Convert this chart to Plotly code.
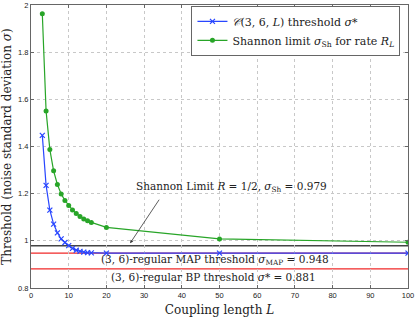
import plotly.graph_objects as go

L_values = [3, 4, 5, 6, 7, 8, 9, 10, 11, 12, 13, 14, 15, 16, 20, 50, 100]
coupled_threshold = [1.447, 1.235, 1.130, 1.071, 1.034, 1.008, 0.993, 0.980, 0.968, 0.960,
                     0.955, 0.952, 0.950, 0.949, 0.948, 0.948, 0.948]
shannon_rate_L = [1.963, 1.551, 1.387, 1.297, 1.239, 1.199, 1.171, 1.150, 1.131, 1.116,
                  1.103, 1.093, 1.085, 1.078, 1.057, 1.008, 0.994]
SHANNON_LIMIT = 0.979
MAP_THRESHOLD = 0.948
BP_THRESHOLD = 0.881
x_ticks = [0, 10, 20, 30, 40, 50, 60, 70, 80, 90, 100]
y_ticks = [0.8, 1.0, 1.2, 1.4, 1.6, 1.8, 2.0]
y_tick_labels = ["0.8", "1", "1.2", "1.4", "1.6", "1.8", "2"]

SERIF = "DejaVu Serif"
SANS = "Liberation Sans"
BLUE = "rgb(40,70,255)"
GREEN = "rgb(40,165,40)"
TXT = "#222"

fig = go.Figure()
fig.add_hline(y=SHANNON_LIMIT, line=dict(color="#444", width=1.5), layer="below")
fig.add_hline(y=MAP_THRESHOLD, line=dict(color="rgb(240,40,40)", width=1.1), layer="below")
fig.add_hline(y=BP_THRESHOLD, line=dict(color="rgb(240,40,40)", width=1.1), layer="below")

fig.add_trace(go.Scatter(
    x=L_values, y=coupled_threshold, mode="lines+markers",
    name="<i>𝒞</i>(3, 6, <i>L</i>) threshold <i>σ</i>*",
    line=dict(color=BLUE, width=1.2),
    marker=dict(symbol="x-thin", size=5, line=dict(color=BLUE, width=1.2), color=BLUE)))
fig.add_trace(go.Scatter(
    x=L_values, y=shannon_rate_L, mode="lines+markers",
    name="Shannon limit <i>σ</i><sub>Sh</sub> for rate <i>R<sub>L</sub></i>",
    line=dict(color=GREEN, width=1.2),
    marker=dict(symbol="circle", size=5, color=GREEN)))

fig.add_annotation(x=53.2, y=1.229, text="Shannon Limit <i>R</i> = 1/2, <i>σ</i><sub>Sh</sub> = 0.979",
                   showarrow=False, font=dict(family=SERIF, size=10.5, color=TXT))
fig.add_annotation(x=26.3, y=0.99, ax=30, ay=-45, text="", showarrow=True,
                   arrowhead=2, arrowsize=0.8, arrowwidth=0.8, arrowcolor="#333")
fig.add_annotation(x=48.9, y=0.918, text="(3, 6)-regular MAP threshold <i>σ</i><sub>MAP</sub> = 0.948",
                   showarrow=False, font=dict(family=SERIF, size=10.5, color=TXT))
fig.add_annotation(x=48.5, y=0.845, text="(3, 6)-regular BP threshold <i>σ</i>* = 0.881",
                   showarrow=False, font=dict(family=SERIF, size=10.5, color=TXT))

axis_common = dict(showline=True, linecolor="#666", linewidth=1, mirror="allticks",
                   ticks="inside", ticklen=3, tickcolor="#666",
                   showgrid=True, gridcolor="#c8c8c8", griddash="dot", gridwidth=1,
                   zeroline=False, automargin=False, ticklabeloverflow="allow",
                   tickfont=dict(family=SANS, size=7.5, color=TXT))
fig.update_xaxes(range=[0, 100], tickvals=x_ticks,
                 title=dict(text="Coupling length <i>L</i>", font=dict(family=SERIF, size=12, color=TXT),
                            standoff=6), **axis_common)
fig.update_yaxes(range=[0.8, 2.0], tickvals=y_ticks, ticktext=y_tick_labels,
                 title=dict(text="Threshold (noise standard deviation <i>σ</i>)",
                            font=dict(family=SERIF, size=12, color=TXT), standoff=6), **axis_common)

fig.update_layout(
    width=415, height=317, autosize=False, margin=dict(l=31, r=7, t=5, b=29),
    paper_bgcolor="white", plot_bgcolor="white",
    legend=dict(x=0.98, y=0.997, xanchor="right", yanchor="top",
                bgcolor="white", bordercolor="#666", borderwidth=1,
                font=dict(family=SERIF, size=11, color=TXT),
                tracegroupgap=0, itemwidth=30),
    showlegend=True)

fig.write_html("out.html", config={"displayModeBar": False, "responsive": False},
               post_script="document.body.style.margin='0';document.body.style.overflow='hidden';")
